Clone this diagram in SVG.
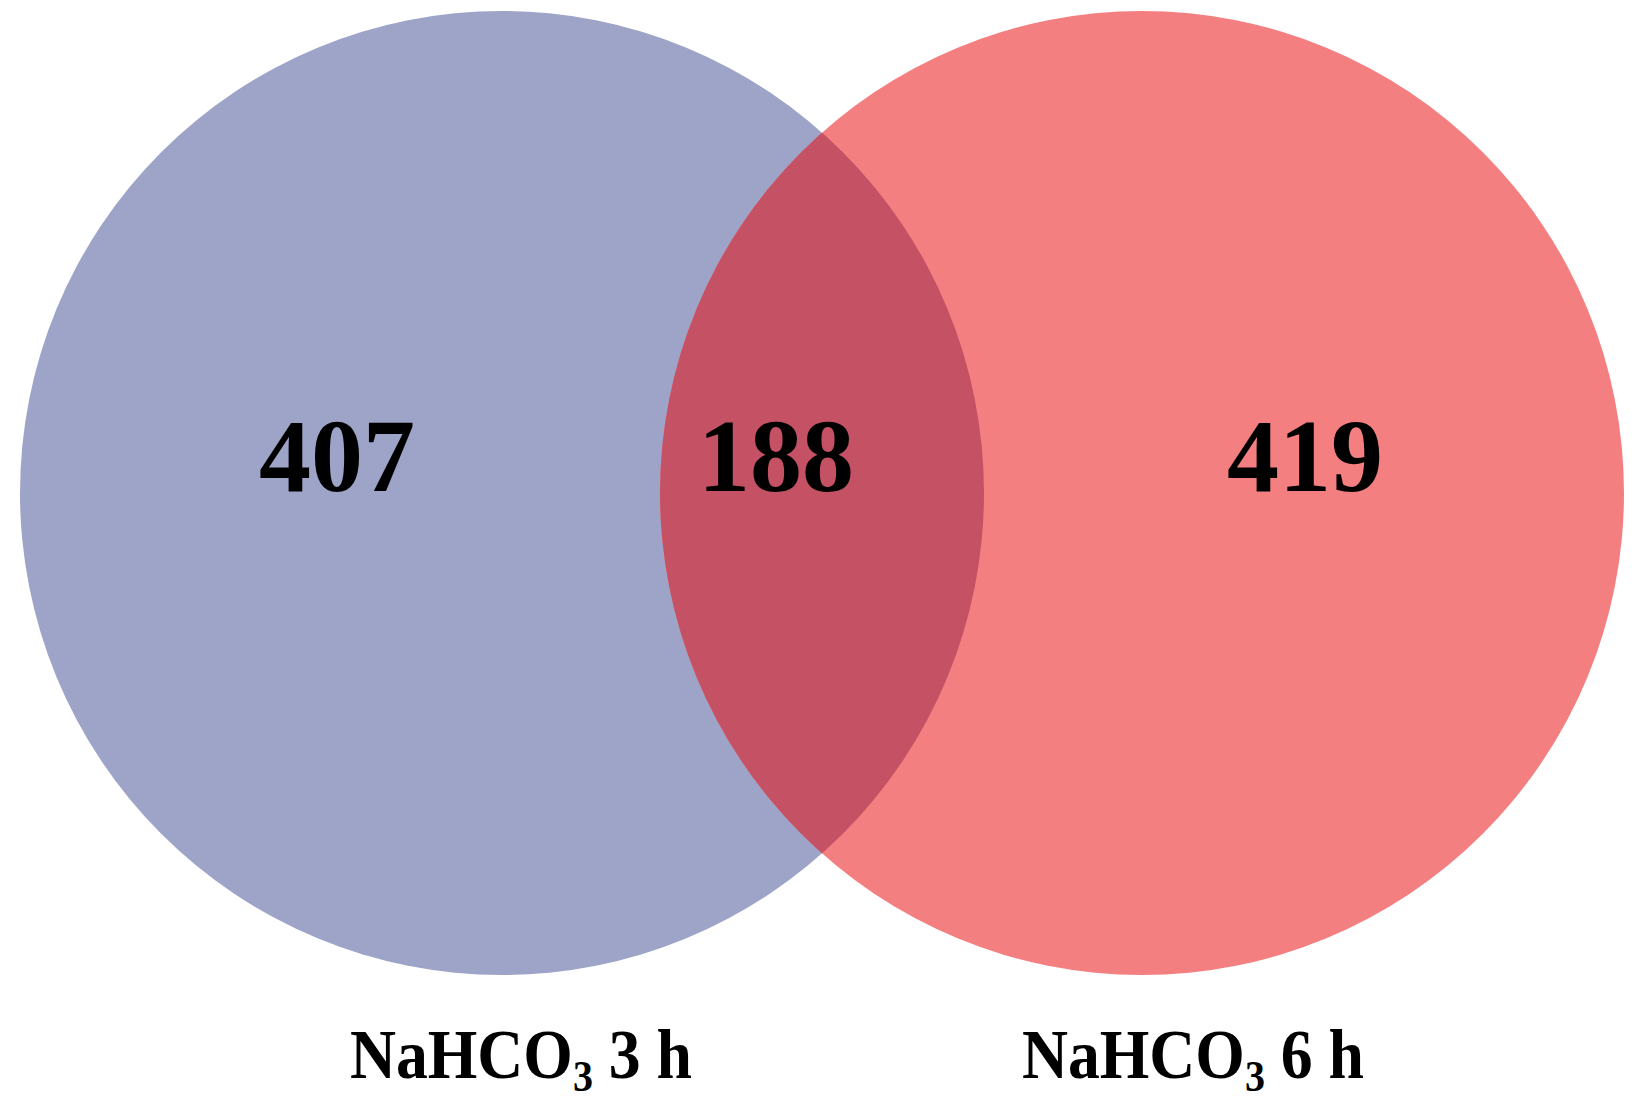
<svg xmlns="http://www.w3.org/2000/svg" width="1643" height="1110" viewBox="0 0 1643 1110">
<defs>
<style>
.num{font-family:"Liberation Serif","Times New Roman",serif;font-weight:bold;font-size:104px;fill:#000;text-anchor:middle}
.lbl{font-family:"Liberation Serif","Times New Roman",serif;font-weight:bold;font-size:70px;fill:#000}
.sub{font-size:44px}
</style>
<clipPath id="clipL"><circle cx="502" cy="493" r="482"/></clipPath>
</defs>
<rect width="1643" height="1110" fill="#fff"/>
<g id="set-3h"><circle cx="502" cy="493" r="482" fill="#9DA4C8"/></g>
<g id="set-6h"><circle cx="1142" cy="493" r="482" fill="#F47F80"/></g>
<g id="overlap"><circle cx="1142" cy="493" r="482" fill="#C55164" clip-path="url(#clipL)"/></g>
<g id="connectors"></g>
<g id="counts">
<text class="num" x="337" y="491">407</text>
<text class="num" x="776" y="491">188</text>
<text class="num" x="1305" y="491">419</text>
</g>
<g id="label-3h" transform="translate(350,1078) scale(0.91,1)">
<text class="lbl" x="0" y="0">NaHCO<tspan class="sub" dy="13">3</tspan><tspan dy="-13"> 3 h</tspan></text>
</g>
<g id="label-6h" transform="translate(1022,1078) scale(0.91,1)">
<text class="lbl" x="0" y="0">NaHCO<tspan class="sub" dy="13">3</tspan><tspan dy="-13"> 6 h</tspan></text>
</g>
</svg>
